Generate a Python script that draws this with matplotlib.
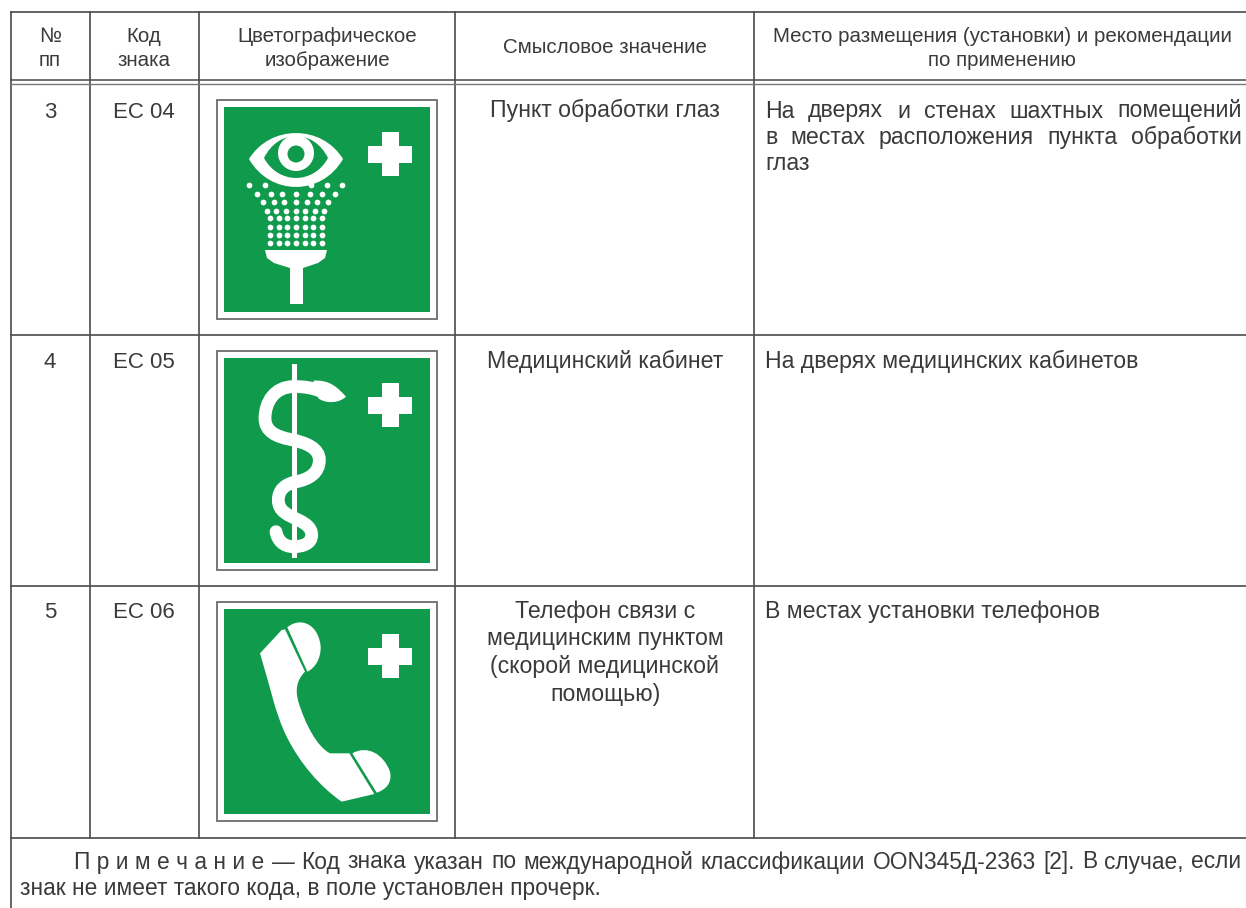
import matplotlib
matplotlib.use("Agg")
import matplotlib.pyplot as plt
from matplotlib.path import Path
from matplotlib.patches import PathPatch, Rectangle, Circle

plt.rcParams['font.family'] = ['Liberation Sans', 'DejaVu Sans']

col_x = [11, 90, 199, 455, 754]
row_y = [12, 81, 335, 586, 838]
header = [["№", "пп"], ["Код", "знака"], ["Цветографическое", "изображение"], ["Смысловое значение"],
          ["Место размещения (установки) и рекомендации", "по применению"]]
numbers = ["3", "4", "5"]
codes = ["EC 04", "EC 05", "EC 06"]
meanings = [["Пункт обработки глаз"], ["Медицинский кабинет"],
            ["Телефон связи с", "медицинским пунктом", "(скорой медицинской", "помощью)"]]
places = [["На дверях и стенах шахтных помещений", "в местах расположения пункта обработки", "глаз"],
          ["На дверях медицинских кабинетов"],
          ["В местах установки телефонов"]]
note_1 = ["П р и м е ч а н и е", "—", "Код", "знака", "указан", "по", "международной", "классификации",
          "OON345Д-2363", "[2].", "В", "случае,", "если"]
note_2 = "знак не имеет такого кода, в поле установлен прочерк."
sign_top = [100, 351, 602]
base_y = [117.5, 368, 618]

GREEN = "#0f9a4c"
INK = "#3a3a3a"
LINE = "#4a4a4a"
STEP = 26.5

fig = plt.figure(figsize=(12.46, 9.08), dpi=100, facecolor="white")
ax = fig.add_axes([0, 0, 1, 1])
ax.set_xlim(0, 1246)
ax.set_ylim(908, 0)
ax.axis("off")

for x in col_x[1:]:
    ax.plot([x, x], [row_y[0], row_y[-1]], color=LINE, lw=1.2)
ax.plot([col_x[0]] * 2, [row_y[0], 908], color=LINE, lw=1.2)
ax.plot([11, 1246], [12, 12], color=LINE, lw=1.2)
ax.plot([11, 1246], [80, 80], color=LINE, lw=1.1)
ax.plot([11, 1246], [84, 84], color="#777777", lw=1.0)
for y in row_y[2:]:
    ax.plot([11, 1246], [y, y], color=LINE, lw=1.2)

FS = 16.7
FS_CODE = 16.0
FS_NOTE = 16.4
HS = 14.8
centers = [50, 144, 327, 605, 1002]
for c, lines in zip(centers, header):
    ys = [53] if len(lines) == 1 else [41.5, 66]
    for y, line in zip(ys, lines):
        ax.text(c, y, line, ha="center", va="baseline", fontsize=HS, color=INK)

fig.canvas.draw()
rend = fig.canvas.get_renderer()


def justified(words, x0, x1, y, fs=FS):
    arts = [ax.text(x0, y, w, fontsize=fs, color=INK, va="baseline", ha="left") for w in words]
    widths = [a.get_window_extent(rend).width for a in arts]
    gap = (x1 - x0 - sum(widths)) / (len(words) - 1)
    x = x0
    for a, w in zip(arts, widths):
        a.set_x(x)
        x += w + gap


for i in range(3):
    yb = base_y[i]
    ax.text(50, yb, numbers[i], ha="center", va="baseline", fontsize=FS_CODE, color=INK)
    ax.text(144, yb, codes[i], ha="center", va="baseline", fontsize=FS_CODE, color=INK)
    for k, line in enumerate(meanings[i]):
        ax.text(605, yb + k * 27.5, line, ha="center", va="baseline", fontsize=FS, color=INK)
    for k, line in enumerate(places[i]):
        y = yb + k * STEP
        if len(places[i]) == 3 and k < 2:
            justified(line.split(" "), 765, 1242, y)
        else:
            ax.text(765, y, line, fontsize=FS, color=INK, va="baseline")

justified(note_1, 74, 1241, 868.5, fs=FS_NOTE)
ax.text(20, 895.5, note_2, fontsize=FS_NOTE, color=INK, va="baseline")


def sign(top):
    ax.add_patch(Rectangle((217, top), 220, 219, fc="white", ec="#6f6a6c", lw=1.3))
    ax.add_patch(Rectangle((224, top + 7), 206, 205, fc=GREEN, ec="none"))
    cx, cy = 390, top + 54
    for (w, h) in [(44, 17), (17, 44)]:
        ax.add_patch(Rectangle((cx - w / 2, cy - h / 2), w, h, fc="white", ec="none"))


def poly(verts, codes_, color="white", **kw):
    ax.add_patch(PathPatch(Path(verts, codes_), fc=color, ec="none", **kw))


for t in sign_top:
    sign(t)

C4, M, L, Z = Path.CURVE4, Path.MOVETO, Path.LINETO, Path.CLOSEPOLY


def almond(cx, cy, hw, up, dn, color):
    v = [(cx - hw, cy), (cx - hw * .55, cy - up * 1.33), (cx + hw * .55, cy - up * 1.33), (cx + hw, cy),
         (cx + hw * .55, cy + dn * 1.33), (cx - hw * .55, cy + dn * 1.33), (cx - hw, cy), (cx - hw, cy)]
    poly(v, [M, C4, C4, C4, C4, C4, C4, Z], color)


almond(296, 159, 47, 26, 28, "white")
almond(296, 158, 32, 22, 20, GREEN)
ax.add_patch(Circle((296, 153), 18, fc="white", ec="none"))
ax.add_patch(Circle((296, 154), 8.5, fc=GREEN, ec="none"))

drop_rows = {
    185: [249, 265, 311, 327, 342],
    194: [257, 271, 282, 296, 310, 322, 335],
    202: [263, 274, 284, 296, 307, 317, 328],
    211: [267, 276, 286, 296, 305, 315, 324],
    218: [270, 279, 287, 296, 305, 313, 322],
    227: [270, 279, 287, 296, 305, 313, 322],
    235: [270, 279, 287, 296, 305, 313, 322],
    243: [270, 279, 287, 296, 305, 313, 322],
}
for y, xs in drop_rows.items():
    ax.scatter(xs, [y] * len(xs), s=17, c="white", linewidths=0, zorder=3)

poly([(265, 250), (327, 250), (325, 258), (318, 263), (303, 268), (303, 304), (290, 304), (290, 268),
      (274, 263), (267, 258), (265, 250)], [M] + [L] * 9 + [Z])

# staff and serpent (coordinates in a 3x crop around the sign)
ax.add_patch(Rectangle((291.5, 364), 5, 194, fc="white", ec="none", zorder=3))
sx, sy = 190, 340
snake = [(420, 160), (395, 160), (375, 138), (310, 140),
         (255, 140), (225, 185), (225, 235),
         (225, 275), (260, 290), (300, 298),
         (350, 308), (388, 325), (388, 360),
         (388, 400), (355, 418), (320, 425),
         (285, 432), (265, 450), (265, 480),
         (265, 515), (295, 525), (325, 540),
         (350, 552), (365, 565), (365, 585),
         (365, 610), (340, 620), (310, 620),
         (280, 620), (262, 600), (258, 575)]
snake_px = [(sx + a / 3, sy + b / 3) for a, b in snake]
ax.add_patch(PathPatch(Path(snake_px, [M] + [C4] * 30), fc="none", ec="white", lw=9.2, capstyle="round", zorder=4))
ax.add_patch(Rectangle((291.5, 425), 5, 14, fc="white", ec="none", zorder=5))
head = [(370, 122), (420, 118), (445, 145), (468, 170), (445, 192), (405, 190), (385, 175), (370, 122)]
poly([(sx + a / 3, sy + b / 3) for a, b in head], [M, C4, C4, C4, C4, C4, C4, Z], zorder=5)

# telephone
px, py = 190, 590


def z3(pts):
    return [(px + a / 3, py + b / 3) for a, b in pts]


poly(z3([(210, 190), (275, 120), (285, 118), (345, 245),
         (320, 270), (315, 300), (325, 335),
         (345, 400), (380, 470), (420, 490),
         (478, 490), (553, 612), (455, 635),
         (390, 590), (330, 520), (290, 440),
         (255, 370), (235, 270), (210, 190), (210, 190)]),
     [M, L, L, L, C4, C4, C4, C4, C4, C4, L, L, L, C4, C4, C4, C4, C4, C4, Z])
poly(z3([(292, 112), (330, 80), (385, 100), (392, 170), (393, 205), (375, 235), (352, 245), (292, 112)]),
     [M, C4, C4, C4, C4, C4, C4, Z])
poly(z3([(487, 490), (530, 465), (580, 490), (600, 545), (608, 580), (585, 600), (560, 608), (487, 490)]),
     [M, C4, C4, C4, C4, C4, C4, Z])

fig.savefig("out.png", dpi=100, facecolor="white")
